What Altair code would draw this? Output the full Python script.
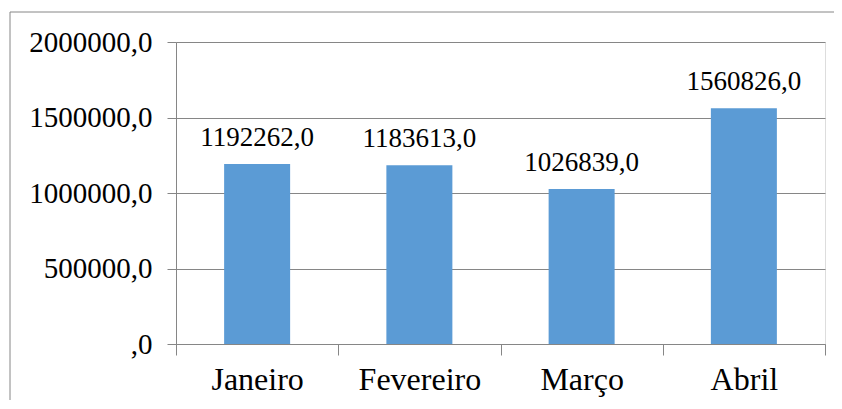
import altair as alt
import pandas as pd

months = ["Janeiro", "Fevereiro", "Março", "Abril"]
values = [1192262, 1183613, 1026839, 1560826]
y_ticks = [0, 500000, 1000000, 1500000, 2000000]

df = pd.DataFrame({"mes": months, "valor": values})
df["rotulo"] = [f"{v},0" for v in values]

W, H = 649, 302
FONT = "Liberation Serif"
GRAY = "#868686"

x_enc = alt.X(
    "mes:N", sort=months, title=None,
    scale=alt.Scale(paddingInner=0, paddingOuter=0),
    axis=alt.Axis(
        labelAngle=0, labelFont=FONT, labelFontSize=32, labelColor="black",
        domainColor=GRAY, tickColor=GRAY, tickSize=11, tickBand="extent",
        labelPadding=9, grid=False,
    ),
)
y_enc = alt.Y(
    "valor:Q", title=None,
    scale=alt.Scale(domain=[0, 2000000], nice=False),
    axis=alt.Axis(
        values=y_ticks,
        labelExpr="datum.value == 0 ? ',0' : format(datum.value, 'd') + ',0'",
        labelFont=FONT, labelFontSize=29, labelColor="black",
        domainColor=GRAY, tickColor=GRAY, tickSize=9, labelPadding=15,
        grid=True, gridColor=GRAY,
    ),
)

border = alt.Chart(pd.DataFrame({"a": [0]})).mark_rect(
    fill=None, stroke=GRAY, strokeWidth=1
).encode(
    x=alt.value(-166), x2=alt.value(W + 60),
    y=alt.value(-30), y2=alt.value(H + 120),
)

bars = alt.Chart(df).mark_bar(color="#5B9BD5", size=66).encode(x=x_enc, y=y_enc)

labels = alt.Chart(df).mark_text(
    font=FONT, fontSize=27, color="black", baseline="alphabetic", dy=-18
).encode(x=alt.X("mes:N", sort=months), y="valor:Q", text="rotulo:N")

chart = alt.layer(border, bars, labels).properties(
    width=W, height=H,
    padding={"left": 168, "top": 34, "right": 9, "bottom": 56},
    autosize=alt.AutoSizeParams(type="none"),
).configure_view(stroke=None).configure(background="white")

chart.save("out.html", embed_options={"renderer": "svg", "actions": False})
